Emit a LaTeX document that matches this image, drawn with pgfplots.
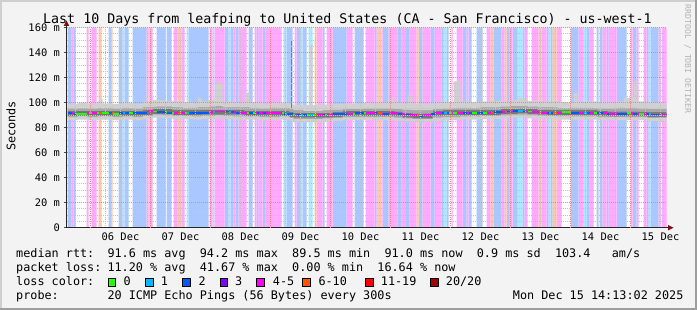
\documentclass[border=0pt]{standalone}
\usepackage{pgfplots}
\pgfplotsset{compat=1.18}
\usepackage{pgfplotstable}
\usepackage{fontspec}
\setmainfont{DejaVu Sans Mono}
\definecolor{bgc}{HTML}{F3F3F3}
\definecolor{shA}{HTML}{CFCFCF}
\definecolor{shB}{HTML}{9E9E9E}
\definecolor{stC}{HTML}{AAE9FF}
\definecolor{stB}{HTML}{AAC7FF}
\definecolor{stP}{HTML}{FFAAFF}
\definecolor{stO}{HTML}{FFC6AA}
\definecolor{lG}{HTML}{26FF00}
\definecolor{lC}{HTML}{00B8FF}
\definecolor{lB}{HTML}{0059FF}
\definecolor{lV}{HTML}{7F00FF}
\definecolor{lM}{HTML}{FF00FF}
\definecolor{lO}{HTML}{FF5500}
\definecolor{lR}{HTML}{FF0000}
\definecolor{lD}{HTML}{A10000}
\definecolor{smA}{HTML}{D0D0D0}
\definecolor{smB}{HTML}{A8A8A8}
\definecolor{smC}{HTML}{767676}
\definecolor{arr}{HTML}{7F1010}
\definecolor{mgrid}{HTML}{FF8080}
\definecolor{ngrid}{HTML}{C4C4C4}

% segments: x0 x1 loss-class median
\pgfplotstableread{
x0 x1 c m
67 71 2 91.5
71 73 4 91.5
73 75 2 91
75 86 0 91
86 88 4 91.5
88 91 0 91.5
91 96 4 92
96 98 0 92
98 101 6 92
101 108 0 91.5
108 111 2 91.5
111 112 6 91.5
112 118 0 91
118 122 2 91.5
122 124 1 91.5
124 128 2 91.5
128 132 0 92
132 146 2 92
146 148 4 93
148 149 6 93
149 152 4 93.5
152 156 0 93
156 165 2 92.5
165 166 0 92.5
166 171 2 92
171 173 0 92
173 177 4 92
177 181 6 91.5
181 184 4 91.5
184 186 0 92
186 188 1 92
188 208 2 92
208 209 0 92.5
209 212 4 92.5
212 214 1 92.5
214 224 4 93
224 228 2 93
228 230 1 92.5
230 233 2 92.5
233 235 4 92.5
235 238 2 92
238 246 4 92
246 248 0 92
248 252 2 91.5
252 254 0 91.5
254 256 4 91.5
256 258 2 91.5
258 262 4 91.5
262 265 2 91.5
265 281 4 91.5
281 283 0 91.5
283 284 2 91
284 286 1 91
286 292 2 91
292 294 0 90.5
294 296 4 90.5
296 300 2 90
300 302 1 90
302 306 2 90
306 308 0 90
308 312 1 90
312 314 0 90
314 316 6 90
316 322 4 90
322 324 2 90.5
324 326 0 90.5
326 332 4 90.5
332 346 2 91
346 352 4 91
352 354 0 91
354 363 2 91.5
363 365 0 91.5
365 374 4 91.5
374 376 2 91.5
376 377 4 91.5
377 381 6 91.5
381 382 4 91
382 388 2 91
388 397 4 91.5
397 401 2 91
401 405 4 91
405 409 2 90.5
409 416 4 90
416 418 6 90
418 422 2 89.5
422 430 4 90
430 434 2 91
434 441 4 91.5
441 443 2 91.5
443 446 1 92
446 448 2 92
448 451 0 92
451 452 4 92
452 456 0 92
456 462 4 92
462 466 2 92
466 468 4 92
468 471 2 92
471 476 0 91.5
476 482 2 91.5
482 486 0 92
486 490 4 92
490 493 6 92
493 501 2 92.5
501 504 4 92.5
504 506 6 93
506 509 2 93
509 512 4 93
512 517 2 93.5
517 522 1 93.5
522 524 2 93
524 527 4 93
527 531 0 93
531 538 4 92.5
538 541 6 92.5
541 546 4 92
546 548 2 92
548 550 1 92
550 552 2 92
552 556 6 92
556 561 4 92
561 570 0 92.5
570 578 2 92
578 583 4 92
583 586 1 91.5
586 589 2 91.5
589 593 4 91.5
593 596 0 92
596 598 2 92
598 599 0 92
599 602 2 91.5
602 606 4 91.5
606 608 2 91
608 616 4 91
616 626 2 91
626 630 0 91.5
630 632 4 91.5
632 636 2 91
636 638 4 91
638 643 0 91
643 646 4 91
646 648 2 91
648 650 1 91
650 658 2 90.5
658 660 4 90.5
660 661 0 90.5
661 666 4 90.5
666 666 -1 nan
}\seg

% smoke envelope: x lo lo2 dlo dhi hi2 hi
\pgfplotstableread{
x lo lo2 dlo dhi hi2 hi
67 86 88.5 89.5 93.5 95.5 99
77 86.5 89 89.5 93.5 96 100
87 86 88.5 89.5 93.5 95.5 99.5
97 86.5 89 89.5 93.5 96 101
99 86.5 89 89.5 93.5 96 103
102 86.5 89 89.5 93.5 96 99.5
112 86 88.5 89.5 93.5 95.5 99
122 86.5 89 89.5 93.5 96 100
132 86 88.5 89.5 93.5 95.5 99
142 87 89.5 90 94 96.5 101
152 88 90.5 91 95 97 102
162 87.5 90 91 95 97 101.5
172 87 89.5 90 94 96.5 101
182 87 89.5 90 94 96 100.5
192 86.5 89 90 94 96 100
197 86.5 89 90 94 96.5 104
201 87 89.5 90.5 94.5 96.5 101
208 87 89.5 90.5 94.5 97 102
215 87.5 90 90.5 94.5 97.5 116
222 87 89.5 90.5 94.5 96.5 101
232 86.5 89 90.5 94.5 96.5 100
244 86.5 89 89.5 93.5 96.5 108
249 86.5 89 89.5 93.5 96 100.5
259 86 88.5 89.5 93.5 95.5 99.5
269 86 88.5 89.5 93.5 96 100
279 86.5 89 89.5 93.5 96 100
289 85.5 88 88.5 92.5 95 99
293 84.5 87 88 92 94 98
303 84.5 87 88 92 93.5 98
309 84.5 87 88 92 93.5 146
312 84.5 87 88 92 93.5 98
322 85 87.5 88 92 94 98.5
332 85.5 88 88.5 92.5 94.5 99
342 86 88.5 89.5 93.5 95 99
352 86 88.5 89.5 93.5 95 99.5
362 86 88.5 89.5 93.5 95.5 100
372 86 88.5 89.5 93.5 95.5 99.5
382 86 88.5 89.5 93.5 95.5 100
390 86 88.5 89.5 93.5 95.5 104
394 85.5 88 89 93 95 100
402 85 87.5 88 92 94.5 99.5
407 85 87.5 88 92 94.5 106
412 84.5 87 87.5 91.5 94 99
422 84.5 87 87.5 91.5 94 99
432 85.5 88 89.5 93.5 95 100
442 86 88.5 90 94 95.5 100.5
453 86 88.5 90 94 96 117
460 86.5 89 90 94 96 101
470 86.5 89 90 94 96 100.5
480 87 89.5 90 94 96.5 101
490 87 89.5 90 94 96.5 101.5
500 87.5 90 91 95 97 101
510 88 90.5 91 95 97.5 102
517 88 90.5 91.5 95.5 97.5 103.5
527 87.5 90 91 95 97 101.5
537 87 89.5 90.5 94.5 96.5 101
547 87 89.5 90 94 96.5 101
557 86.5 89 90 94 96 100.5
567 86.5 89 90 94 96 100
573 86.5 89 90 94 96 108
577 86.5 89 90 94 96 100.5
587 86.5 89 90 94 96 101
597 86 88.5 89.5 93.5 95.5 100
607 86 88.5 89 93 95.5 100
617 86 88.5 89 93 96 101
623 86 88.5 89 93 96 104
633 86 88.5 89 93 96 117
637 86 88.5 89 93 95.5 101
647 85.5 88 88.5 92.5 95 100
657 85.5 88 88.5 92.5 95 99.5
666 85.5 88 88.5 92.5 95 99.5
}\smoke

\newcommand\tfont{\fontsize{13.3pt}{15pt}\selectfont}
\newcommand\lfont{\fontsize{11.8pt}{14pt}\selectfont}
\newcommand\afont{\fontsize{10.4pt}{12pt}\selectfont}

\pgfplotsset{
  medline/.style={draw=none, mark=none, forget plot,
    error bars/.cd, x dir=plus, x explicit, error mark=none,
    error bar style={line width=1.8pt, draw=#1}},
}

\begin{document}
\frenchspacing
\begin{tikzpicture}
\useasboundingbox (0pt,0pt) rectangle (697pt,310pt);
\fill[bgc] (0pt,0pt) rectangle (697pt,310pt);
\draw[shA, line width=2pt] (1pt,0pt) -- (1pt,309pt) -- (697pt,309pt);
\draw[shB, line width=2pt] (0pt,1pt) -- (696pt,1pt) -- (696pt,310pt);

\begin{axis}[
  at={(66.5pt,82.3pt)}, anchor=south west,
  scale only axis, width=600pt, height=200pt,
  xmin=66, xmax=666, ymin=0, ymax=160,
  axis on top,
  axis background/.style={fill=white},
  axis x line*=bottom, axis y line*=left,
  axis line style={black!85, line width=1pt},
  xtick={120,180,...,660},
  xticklabels={06 Dec,07 Dec,08 Dec,09 Dec,10 Dec,11 Dec,12 Dec,13 Dec,14 Dec,15 Dec},
  xtick style={draw=none},
  minor xtick={75,90,...,660},
  minor x tick style={draw=none},
  extra x ticks={90,150,...,630},
  extra x tick labels={},
  extra x tick style={xmajorgrids=true, tick style={draw=mgrid, line width=1pt}},
  ytick={0,20,...,160},
  yticklabels={0,20 m,40 m,60 m,80 m,100 m,120 m,140 m,160 m},
  minor y tick num=3,
  minor y tick style={draw=none},
  ytick style={draw=black!70, line width=1pt},
  tick align=outside, major tick length=3pt,
  xmajorgrids=false, ymajorgrids=true, xminorgrids=true, yminorgrids=true,
  major grid style={draw=mgrid, line width=1pt, dash pattern=on 1pt off 1pt},
  minor grid style={draw=ngrid, line width=1pt, dash pattern=on 1pt off 1pt},
  yticklabel style={font=\afont, anchor=east, inner sep=0pt, xshift=-3.5pt},
  xticklabel style={font=\afont, anchor=base, inner sep=0pt, yshift=-10.3pt},
]
% loss background stripes
\addplot[const plot mark left, fill=stC, draw=none, forget plot] table[x=x0, y expr={\thisrow{c}==1 ? 160 : 0}] {\seg} \closedcycle;
\addplot[const plot mark left, fill=stB, draw=none, forget plot] table[x=x0, y expr={\thisrow{c}==2 ? 160 : 0}] {\seg} \closedcycle;
\addplot[const plot mark left, fill=stP, draw=none, forget plot] table[x=x0, y expr={\thisrow{c}==4 ? 160 : 0}] {\seg} \closedcycle;
\addplot[const plot mark left, fill=stO, draw=none, forget plot] table[x=x0, y expr={\thisrow{c}==6 ? 160 : 0}] {\seg} \closedcycle;

% smoke
\addplot[stack plots=y, const plot mark left, draw=none, forget plot] table[x=x, y=lo] {\smoke};
\addplot[stack plots=y, const plot mark left, draw=none, fill=smA, forget plot] table[x=x, y expr={\thisrow{lo2}-\thisrow{lo}}] {\smoke} \closedcycle;
\addplot[stack plots=y, const plot mark left, draw=none, fill=smB, forget plot] table[x=x, y expr={\thisrow{dlo}-\thisrow{lo2}}] {\smoke} \closedcycle;
\addplot[stack plots=y, const plot mark left, draw=none, fill=smC, forget plot] table[x=x, y expr={\thisrow{dhi}-\thisrow{dlo}}] {\smoke} \closedcycle;
\addplot[stack plots=y, const plot mark left, draw=none, fill=smB, forget plot] table[x=x, y expr={\thisrow{hi2}-\thisrow{dhi}}] {\smoke} \closedcycle;
\addplot[stack plots=y, const plot mark left, draw=none, fill=smA, forget plot] table[x=x, y expr={\thisrow{hi}-\thisrow{hi2}}] {\smoke} \closedcycle;

% outlier spike
\addplot[draw=black!50, line width=1.3pt, forget plot] coordinates {(291,96) (291,150)};

% median rtt coloured by loss
\addplot[medline=lG] table[x=x0, y expr={\thisrow{c}==0 ? \thisrow{m} : nan}, x error expr={\thisrow{x1}-\thisrow{x0}}] {\seg};
\addplot[medline=lC] table[x=x0, y expr={\thisrow{c}==1 ? \thisrow{m} : nan}, x error expr={\thisrow{x1}-\thisrow{x0}}] {\seg};
\addplot[medline=lB] table[x=x0, y expr={\thisrow{c}==2 ? \thisrow{m} : nan}, x error expr={\thisrow{x1}-\thisrow{x0}}] {\seg};
\addplot[medline=lM] table[x=x0, y expr={\thisrow{c}==4 ? \thisrow{m} : nan}, x error expr={\thisrow{x1}-\thisrow{x0}}] {\seg};
\addplot[medline=lO] table[x=x0, y expr={\thisrow{c}==6 ? \thisrow{m} : nan}, x error expr={\thisrow{x1}-\thisrow{x0}}] {\seg};
\end{axis}

% arrows
\fill[arr] (668pt,79.5pt) -- (673.5pt,82.3pt) -- (668pt,85.1pt) -- cycle;
\fill[arr] (63.7pt,284pt) -- (66.5pt,289.5pt) -- (69.3pt,284pt) -- cycle;
\draw[black!85, line width=1pt] (666pt,82.3pt) -- (668pt,82.3pt);
\draw[black!85, line width=1pt] (66.5pt,282.3pt) -- (66.5pt,284pt);

% title, unit, watermark
\node[anchor=base, inner sep=0pt, font=\tfont] at (347.5pt,286.5pt) {Last 10 Days from leafping to United States (CA - San Francisco) - us-west-1};
\node[anchor=base, inner sep=0pt, rotate=90, font=\lfont] at (15.5pt,184pt) {Seconds};
\node[anchor=base, inner sep=0pt, rotate=-90, font=\fontsize{8.2pt}{9pt}\selectfont, text=black!30] at (685pt,251pt) {RRDTOOL / TOBI OETIKER};

% legend
\node[anchor=base west, inner sep=0pt, font=\lfont] at (16pt,52.7pt) {median rtt:};
\node[anchor=base west, inner sep=0pt, font=\lfont] at (107.3pt,52.7pt) {91.6 ms avg~~94.2 ms max~~89.5 ms min~~91.0 ms now~~0.9 ms sd~~103.4~~~am/s};
\node[anchor=base west, inner sep=0pt, font=\lfont] at (16pt,38.7pt) {packet loss:};
\node[anchor=base west, inner sep=0pt, font=\lfont] at (107.3pt,38.7pt) {11.20 \% avg~~41.67 \% max~~0.00 \% min~~16.64 \% now};
\node[anchor=base west, inner sep=0pt, font=\lfont] at (16pt,24.7pt) {loss color:};
\foreach \bx/\tx/\col/\lab in {108.3/123.3/lG/0, 145.7/160.7/lC/1, 182.7/198.3/lB/2, 220/235/lV/3, 256.7/272.7/lM/4-5, 302.7/318.3/lO/6-10, 365.7/380.7/lR/11-19, 430.7/445.7/lD/20\slash 20} {
  \filldraw[fill=\col, draw=black, line width=0.9pt] (\bx pt,23.6pt) rectangle ++(7.6pt,7.6pt);
  \node[anchor=base west, inner sep=0pt, font=\lfont] at (\tx pt,24.7pt) {\lab};
}
\node[anchor=base west, inner sep=0pt, font=\lfont] at (16pt,10.7pt) {probe:};
\node[anchor=base west, inner sep=0pt, font=\lfont] at (107.3pt,10.7pt) {20 ICMP Echo Pings (56 Bytes) every 300s};
\node[anchor=base west, inner sep=0pt, font=\lfont] at (512.7pt,10.7pt) {Mon Dec 15 14:13:02 2025};
\end{tikzpicture}
\end{document}
